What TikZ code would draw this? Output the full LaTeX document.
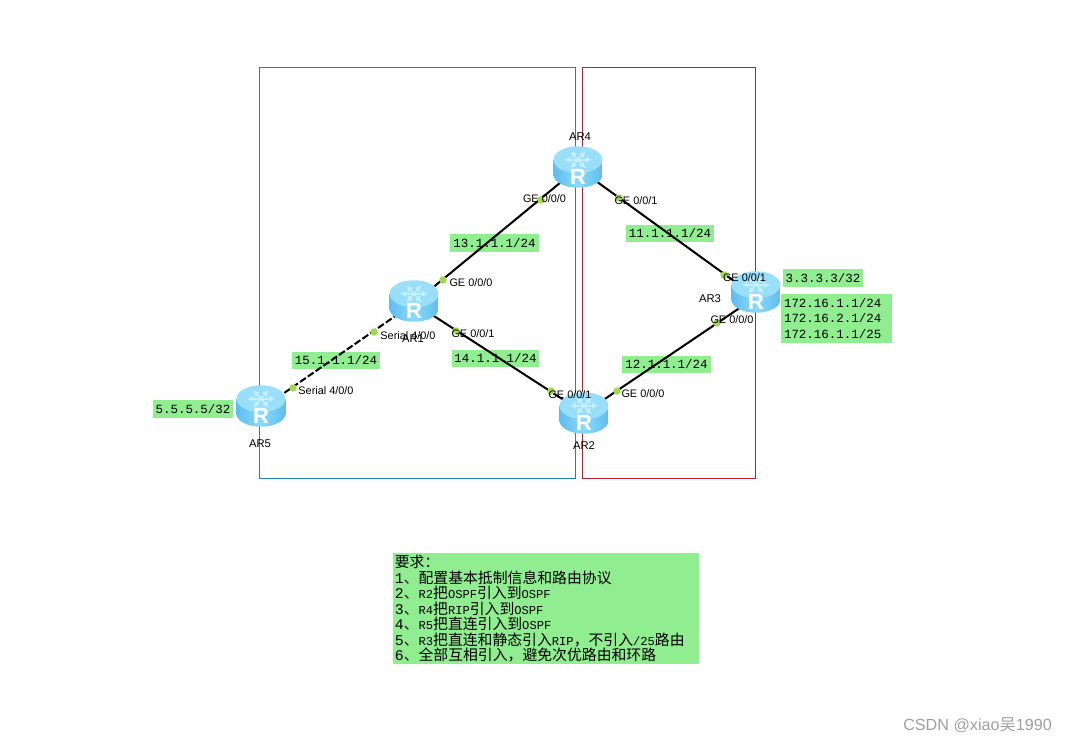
\documentclass[tikz,border=0pt]{standalone}
\usepackage{fontspec}
\setmainfont{Liberation Sans}
\setmonofont{Liberation Mono}
\newfontfamily\cjkfont{Noto Sans CJK SC}
\usepackage{xcolor}
\usetikzlibrary{arrows.meta}
\definecolor{netgreen}{HTML}{90EE90}
\definecolor{netblue}{HTML}{2080B8}
\definecolor{netred}{HTML}{B8202C}
\definecolor{portgreen}{HTML}{A0D850}
\definecolor{routerlight}{HTML}{9ADFFA}
\definecolor{routermid}{HTML}{8ADAF9}
\definecolor{routerdark}{HTML}{5FBDEE}
\definecolor{routericon}{HTML}{C4F0FF}
\newcommand{\cn}[1]{{\cjkfont #1}}
\newcommand{\lat}[1]{{\fontsize{6.9}{8}\selectfont #1}}
\newcommand{\tightlines}{\lineskiplimit=-10pt\relax}
\pgfdeclarelayer{boxes}
\pgfdeclarelayer{links}
\pgfsetlayers{boxes,links,main}

\begin{document}
\begin{tikzpicture}[
  x=0.02cm, y=-0.02cm,
  router/.style={
    rectangle,
    minimum width=0.98cm,
    minimum height=0.83cm,
    inner sep=0pt,
    path picture={
      \begin{scope}[x=1cm, y=1cm]
        \shade[left color=routerdark, right color=routerdark, middle color=routermid]
          (-0.49,0.145) -- (-0.49,-0.155) arc[start angle=180, end angle=360, x radius=0.49, y radius=0.26]
          -- (0.49,0.145) -- cycle;
        \fill[routerlight] (0,0.145) ellipse (0.49 and 0.27);
        \draw[routericon, line width=0.9pt, {Latex[length=1.2mm,width=1.3mm]}-{Latex[length=1.2mm,width=1.3mm]}]
          (-0.28,0.145) -- (0.28,0.145);
        \draw[routericon, line width=0.9pt, {Latex[length=1.2mm,width=1.3mm]}-{Latex[length=1.2mm,width=1.3mm]}]
          (-0.15,0.315) -- (0.15,-0.025);
        \draw[routericon, line width=0.9pt, {Latex[length=1.2mm,width=1.3mm]}-{Latex[length=1.2mm,width=1.3mm]}]
          (0.15,0.315) -- (-0.15,-0.025);
      \end{scope}
    },
    label={[routerletter]center:R}
  },
  routerletter/.style={
    text=white,
    font=\fontsize{12.5}{12.5}\selectfont\bfseries,
    yshift=-5.8pt,
    inner sep=0pt
  },
  ipbox/.style={
    fill=netgreen,
    inner sep=0pt,
    align=left,
    font=\fontsize{7.1}{8.6}\selectfont\ttfamily
  },
  notebox/.style={
    fill=netgreen,
    anchor=north west,
    minimum width=6.12cm,
    minimum height=2.22cm,
    text width=6.06cm,
    inner xsep=0.03cm,
    inner ysep=0pt,
    align=left,
    font=\fontsize{8.45}{8.85}\selectfont\ttfamily\tightlines
  },
  portlabel/.style={font=\fontsize{6.2}{7}\selectfont, inner sep=0pt},
  namelabel/.style={font=\fontsize{6.4}{7}\selectfont, inner sep=0pt},
  port/.style={circle, fill=portgreen, inner sep=0pt, minimum size=0.15cm},
  link/.style={line width=1.15pt, black},
  area/.style={line width=0.55pt, minimum height=8.24cm, inner sep=0pt}
]
\useasboundingbox (0,0) rectangle (1067,743);

% routers
\node[router] (ar1) at (414,301) {};
\node[router] (ar2) at (584,413) {};
\node[router] (ar3) at (756,292) {};
\node[router] (ar4) at (578,167) {};
\node[router] (ar5) at (261,406) {};

\begin{pgfonlayer}{boxes}
  % areas
  \node[draw=netblue, area, minimum width=6.34cm] (left area) at (417.5,273) {};
  \node[draw=netred, area, minimum width=3.46cm] (right area) at (668.5,273) {};

  % addresses
  \node[ipbox, minimum width=1.78cm, minimum height=0.35cm] (net13) at (494.5,243) {13.1.1.1/24};
  \node[ipbox, minimum width=1.76cm, minimum height=0.35cm] (net11) at (670,233.5) {11.1.1.1/24};
  \node[ipbox, minimum width=1.74cm, minimum height=0.35cm] (net14) at (495.5,358.5) {14.1.1.1/24};
  \node[ipbox, minimum width=1.78cm, minimum height=0.35cm] (net12) at (666.5,364.5) {12.1.1.1/24};
  \node[ipbox, minimum width=1.76cm, minimum height=0.35cm] (net15) at (336,360.5) {15.1.1.1/24};
  \node[ipbox, minimum width=1.6cm, minimum height=0.36cm] (loop5) at (193,409) {5.5.5.5/32};
  \node[ipbox, minimum width=1.6cm, minimum height=0.36cm] (loop3) at (823,278) {3.3.3.3/32};
  \node[ipbox, text width=2.1cm, inner xsep=0.06cm, minimum height=0.98cm] (static3) at (836.5,318.5) {172.16.1.1/24\\172.16.2.1/24\\172.16.1.1/25};
\end{pgfonlayer}

\coordinate (hub1) at ([yshift=-1.2pt]ar1.center);
\coordinate (hub3) at ([yshift=-2.8pt]ar3.center);
\coordinate (hub4) at ([yshift=-0.6pt]ar4.center);
\coordinate (hub5) at ([yshift=-1.7pt]ar5.center);

\begin{pgfonlayer}{links}
  \draw[link] (hub1) -- (hub4);
  \draw[link] (hub4) -- (hub3);
  \draw[link] (hub1) -- (ar2.center);
  \draw[link] (ar2.center) -- (hub3);
  \draw[link, dash pattern=on 4pt off 1.4pt] (hub5) -- (hub1);
\end{pgfonlayer}

\node[port] (p41) at (541,200) {};
\node[port] (p42) at (619,198) {};
\node[port] (p11) at (443,280) {};
\node[port] (p12) at (456,331) {};
\node[port] (p13) at (374,332) {};
\node[port] (p21) at (551,391) {};
\node[port] (p22) at (617,391) {};
\node[port] (p31) at (724,275) {};
\node[port] (p32) at (717,323) {};
\node[port] (p51) at (293,388) {};

% interface names
\node[portlabel] (l41) at (544.5,199) {GE 0/0/0};
\node[portlabel] (l42) at (636,201) {GE 0/0/1};
\node[portlabel] (l11) at (471,283) {GE 0/0/0};
\node[portlabel] (l12) at (473,334) {GE 0/0/1};
\node[portlabel] (l13) at (408,335.5) {Serial 4/0/0};
\node[portlabel] (l21) at (570,395) {GE 0/0/1};
\node[portlabel] (l22) at (643,394) {GE 0/0/0};
\node[portlabel] (l31) at (744.5,278) {GE 0/0/1};
\node[portlabel] (l32) at (732,320) {GE 0/0/0};
\node[portlabel] (l51) at (326,391) {Serial 4/0/0};

\node[namelabel] (name1) at (413,339) {AR1};
\node[namelabel] (name2) at (584,446) {AR2};
\node[namelabel] (name3) at (710,299) {AR3};
\node[namelabel] (name4) at (580,137) {AR4};
\node[namelabel] (name5) at (260,444) {AR5};

% task list
\node[notebox] (task) at (393,553) {
  \cn{要求：}\\
  1\cn{、配置基本抵制信息和路由协议}\\
  2\cn{、}\lat{R2}\cn{把}\lat{OSPF}\cn{引入到}\lat{OSPF}\\
  3\cn{、}\lat{R4}\cn{把}\lat{RIP}\cn{引入到}\lat{OSPF}\\
  4\cn{、}\lat{R5}\cn{把直连引入到}\lat{OSPF}\\
  5\cn{、}\lat{R3}\cn{把直连和静态引入}\lat{RIP}\cn{，不引入}\lat{/25}\cn{路由}\\
  6\cn{、全部互相引入，避免次优路由和环路}
};

\node[text=gray!75, font=\fontsize{9.2}{10}\selectfont, inner sep=0pt] (mark) at (977.5,725) {CSDN @xiao\cn{吴}1990};

\end{tikzpicture}
\end{document}
